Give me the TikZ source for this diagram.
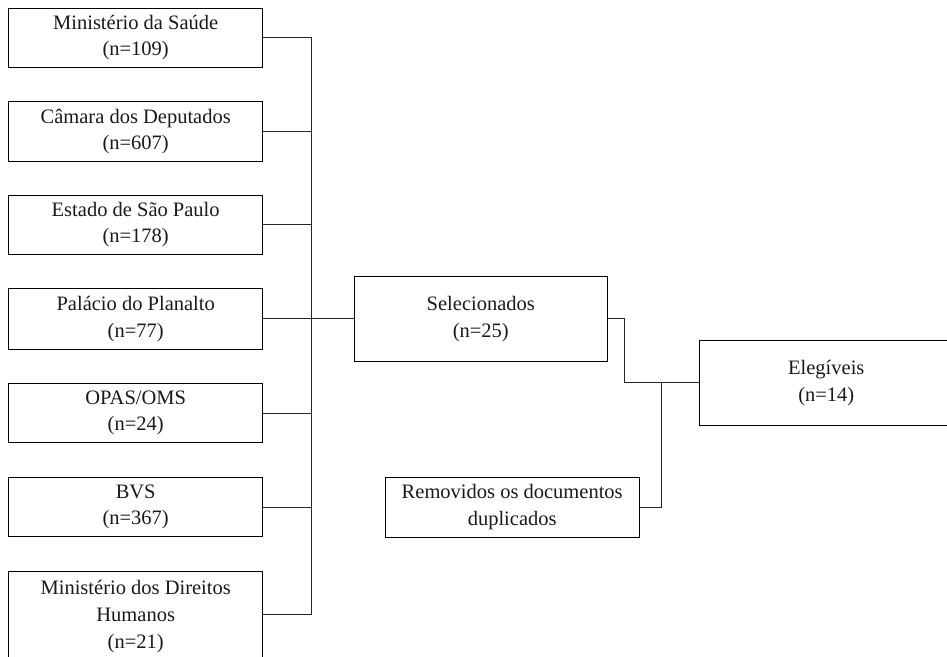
\documentclass[tikz,border=0pt]{standalone}
\usepackage{fontspec}
\setmainfont{Liberation Serif}
\begin{document}
\begin{tikzpicture}[x=1pt,y=-1pt,
  box/.style={draw=black, line width=0.9pt, align=center, inner sep=0pt,
    font=\fontsize{20.5}{26.7}\selectfont, text=black!90},
  conn/.style={draw=black!85, line width=0.9pt}]
\useasboundingbox (0,0) rectangle (947,656);
\clip (0,0) rectangle (947,656);
% source boxes
\node[box, minimum width=254pt, minimum height=58.5pt] (b1) at (135.7,37.7) {Ministério da Saúde\\(n=109)};
\node[box, minimum width=254pt, minimum height=60pt] (b2) at (135.7,131.5) {Câmara dos Deputados\\(n=607)};
\node[box, minimum width=254pt, minimum height=59pt] (b3) at (135.7,224.5) {Estado de São Paulo\\(n=178)};
\node[box, minimum width=254pt, minimum height=61pt] (b4) at (135.7,318.8) {Palácio do Planalto\\(n=77)};
\node[box, minimum width=254pt, minimum height=59.4pt] (b5) at (135.7,413) {OPAS/OMS\\(n=24)};
\node[box, minimum width=254pt, minimum height=59.4pt] (b6) at (135.7,507) {BVS\\(n=367)};
\node[box, minimum width=254pt, minimum height=86pt, text depth=0pt] (b7) at (135.7,614.5) {Ministério dos Direitos\\Humanos\\(n=21)};
% right side boxes
\node[box, minimum width=253.7pt, minimum height=85.7pt] (sel) at (480.8,318.8) {Selecionados\\(n=25)};
\node[box, minimum width=254.3pt, minimum height=60pt] (rem) at (512.2,507.3) {Removidos os documentos\\duplicados};
\node[box, minimum width=254pt, minimum height=85.7pt] (eleg) at (826.3,382.8) {Elegíveis\\(n=14)};
% bus
\coordinate (bus) at (311.7,0);
\coordinate (j1) at (624,382.8);
\coordinate (j2) at (661.7,382.8);
\foreach \b in {b1,b2,b3,b5,b6,b7} {\draw[conn] (\b.east) -- (bus |- \b.east);}
\draw[conn] (bus |- b1.east) -- (bus |- b7.east);
\draw[conn] (b4.east) -- (sel.west);
\draw[conn] (sel.east) -| (j1) -- (eleg.west);
\draw[conn] (rem.east) -| (j2);
\end{tikzpicture}
\end{document}
